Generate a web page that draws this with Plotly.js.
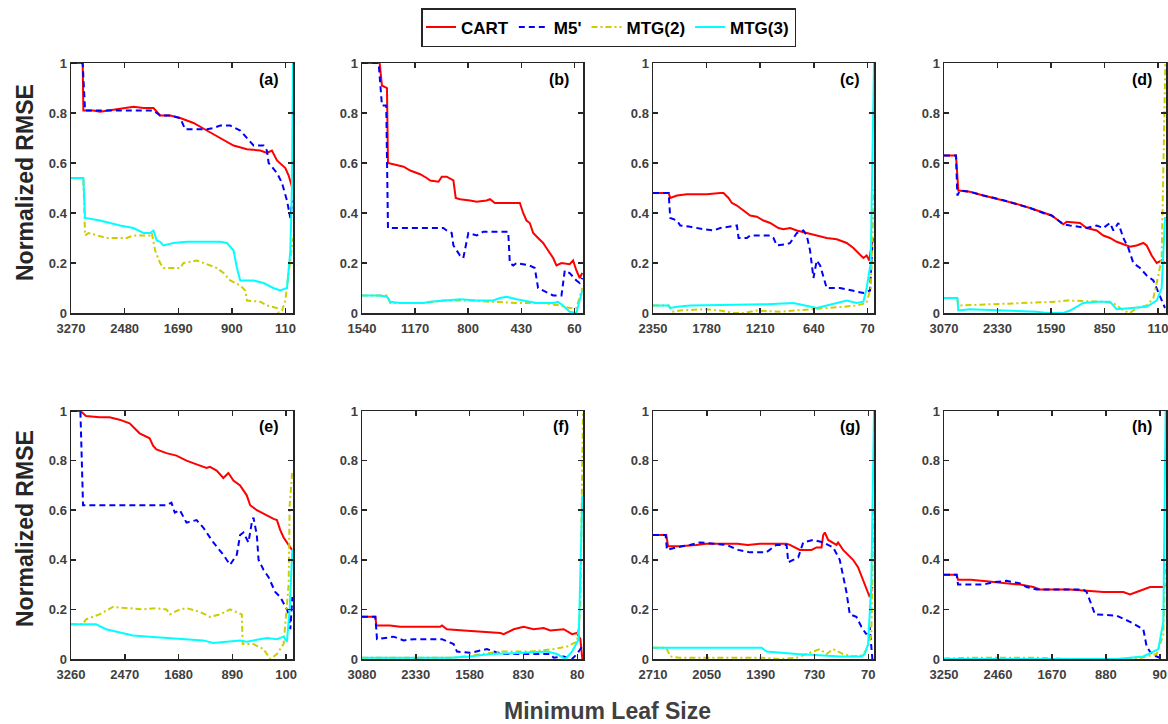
<!DOCTYPE html>
<html>
<head>
<meta charset="utf-8">
<script src="https://cdn.plot.ly/plotly-3.0.1.min.js"></script>
<style>html,body{margin:0;padding:0;background:#fff;}#chart{width:1168px;height:724px;}</style>
</head>
<body>
<div id="chart"></div>
<script>
// ---------- Series names & tick settings ----------
const seriesNames = ["CART", "M5'", "MTG(2)", "MTG(3)"];
const panelLabels = ["(a)", "(b)", "(c)", "(d)", "(e)", "(f)", "(g)", "(h)"];
const xMax = [3270, 1540, 2350, 3070, 3260, 3080, 2710, 3250];
const xTicks = [
  [3270, 2480, 1690, 900, 110],
  [1540, 1170, 800, 430, 60],
  [2350, 1780, 1210, 640, 70],
  [3070, 2330, 1590, 850, 110],
  [3260, 2470, 1680, 890, 100],
  [3080, 2330, 1580, 830, 80],
  [2710, 2050, 1390, 730, 70],
  [3250, 2460, 1670, 880, 90]
];
const yTicks = [0, 0.2, 0.4, 0.6, 0.8, 1];
const yTickText = ["0", "0.2", "0.4", "0.6", "0.8", "1"];

// ---------- Panel (a) ----------
const a_cart_x = [3270,3098,3088,2940,2842,2449,2350,2203,2055,1957,1809,1662,1465,1269,1072,875,679,482,384,310,236,113,64,30,10];
const a_cart_y = [1,1,0.81,0.81,0.805,0.82,0.825,0.82,0.82,0.79,0.79,0.78,0.76,0.73,0.70,0.67,0.655,0.65,0.64,0.65,0.61,0.58,0.55,0.52,0.5];
const a_m5_x = [3270,3098,3063,2055,1957,1809,1662,1588,1269,1170,1072,925,777,679,581,433,384,359,236,162,89,39,10];
const a_m5_y = [1,1,0.81,0.81,0.79,0.79,0.78,0.735,0.735,0.74,0.75,0.75,0.73,0.70,0.67,0.67,0.65,0.60,0.56,0.52,0.45,0.38,0.45];
const a_mtg2_x = [3270,3088,3063,3014,2745,2449,2350,2105,2080,2031,1957,1908,1662,1613,1416,1318,1121,1023,924,777,703,679,482,384,236,211,162,113,39,0];
const a_mtg2_y = [0.54,0.54,0.31,0.32,0.30,0.30,0.31,0.31,0.32,0.25,0.20,0.18,0.18,0.20,0.21,0.20,0.18,0.16,0.13,0.11,0.09,0.05,0.045,0.03,0.02,0.0,0.01,0.05,0.2,0.3];
const a_mtg3_x = [3270,3088,3063,2842,2547,2350,2203,2105,2055,2006,1957,1908,1760,1564,1072,973,875,826,777,580,433,290,187,89,39,15,0];
const a_mtg3_y = [0.54,0.54,0.38,0.37,0.35,0.34,0.32,0.32,0.33,0.29,0.285,0.27,0.28,0.285,0.285,0.28,0.25,0.18,0.13,0.13,0.12,0.10,0.09,0.10,0.25,0.5,1.0];

// ---------- Panel (b) ----------
const b_cart_x = [1540,1417,1401,1366,1359,1297,1250,1204,1135,1089,1065,1007,984,950,903,887,857,787,741,672,648,614,440,417,394,371,347,313,278,243,208,185,150,93,69,46,23,5];
const b_cart_y = [1,1,0.91,0.90,0.60,0.59,0.585,0.57,0.555,0.54,0.53,0.525,0.545,0.545,0.53,0.46,0.455,0.45,0.445,0.45,0.455,0.44,0.44,0.40,0.37,0.36,0.32,0.30,0.28,0.25,0.22,0.19,0.20,0.195,0.21,0.17,0.14,0.16];
const b_m5_x = [1540,1424,1401,1371,1359,973,950,915,903,857,834,799,741,695,521,510,486,463,371,336,313,278,243,208,150,127,93,46,23,5];
const b_m5_y = [1,1,0.83,0.83,0.34,0.34,0.33,0.32,0.27,0.23,0.22,0.32,0.31,0.325,0.325,0.20,0.19,0.20,0.19,0.18,0.10,0.09,0.08,0.07,0.07,0.17,0.16,0.13,0.12,0.14];
const b_mtg2_x = [1540,1366,1343,1111,973,787,648,463,278,162,93,46,5];
const b_mtg2_y = [0.07,0.07,0.04,0.04,0.05,0.05,0.045,0.04,0.04,0.03,0.02,0.02,0.1];
const b_mtg3_x = [1540,1413,1366,1343,1274,1111,1065,950,857,741,625,579,533,463,417,324,208,174,139,93,46,23,5];
const b_mtg3_y = [0.07,0.07,0.065,0.045,0.04,0.04,0.045,0.05,0.055,0.05,0.05,0.06,0.065,0.055,0.05,0.04,0.04,0.045,0.03,0.005,0.0,0.05,0.09];

// ---------- Panel (c) ----------
const c_cart_x = [2350,2184,2166,2095,1989,1777,1635,1600,1547,1511,1458,1388,1317,1246,1175,1104,1016,963,892,821,715,609,503,396,290,219,166,113,78,50,14];
const c_cart_y = [0.48,0.48,0.46,0.47,0.475,0.475,0.48,0.48,0.46,0.44,0.43,0.41,0.39,0.385,0.37,0.36,0.34,0.335,0.34,0.33,0.32,0.31,0.30,0.295,0.28,0.26,0.24,0.22,0.23,0.21,0.3];
const c_m5_x = [2350,2184,2166,2095,2060,1954,1812,1706,1635,1547,1458,1440,1352,1317,1104,1069,1033,927,892,821,750,715,680,644,609,573,503,361,219,113,42,14];
const c_m5_y = [0.48,0.48,0.38,0.37,0.35,0.345,0.335,0.33,0.34,0.345,0.35,0.30,0.30,0.31,0.31,0.30,0.27,0.275,0.28,0.32,0.33,0.31,0.25,0.14,0.21,0.19,0.10,0.10,0.09,0.08,0.09,0.3];
const c_mtg2_x = [2350,2184,2148,2060,1812,1635,1493,1388,1317,1246,998,856,644,503,325,184,78,35,0];
const c_mtg2_y = [0.03,0.03,0.005,0.01,0.015,0.01,0.0,0.0,0.005,0.01,0.005,0.01,0.015,0.02,0.025,0.03,0.04,0.1,0.5];
const c_mtg3_x = [2350,2184,2166,2095,1954,1706,1352,1140,856,715,609,503,361,290,184,113,78,35,0];
const c_mtg3_y = [0.03,0.03,0.02,0.025,0.03,0.032,0.032,0.035,0.04,0.03,0.02,0.03,0.045,0.05,0.04,0.045,0.10,0.2,1.0];

// ---------- Panel (d) ----------
const d_cart_x = [3070,2904,2872,2711,2526,2296,2111,1881,1697,1581,1489,1420,1374,1189,1097,959,867,774,682,590,498,406,313,267,198,129,60,14];
const d_cart_y = [0.63,0.63,0.49,0.485,0.47,0.455,0.44,0.42,0.40,0.39,0.37,0.355,0.365,0.36,0.34,0.33,0.31,0.30,0.285,0.275,0.265,0.27,0.28,0.27,0.23,0.20,0.21,0.2];
const d_m5_x = [3070,2904,2886,2849,2711,2526,2296,2111,1881,1697,1581,1489,1420,1328,1097,959,867,774,728,659,590,521,452,359,267,175,106,46,14];
const d_m5_y = [0.63,0.63,0.47,0.49,0.485,0.47,0.455,0.44,0.42,0.40,0.39,0.37,0.355,0.35,0.34,0.35,0.34,0.36,0.33,0.36,0.30,0.26,0.20,0.18,0.15,0.13,0.08,0.04,0.02];
const d_mtg2_x = [3070,2886,2872,2480,2019,1512,1374,867,728,590,498,406,267,175,106,60,9,0];
const d_mtg2_y = [0.06,0.06,0.03,0.035,0.04,0.045,0.05,0.045,0.04,0.01,0.0,0.02,0.03,0.06,0.15,0.22,1.0,1.0];
const d_mtg3_x = [3070,2886,2872,2711,2250,1789,1651,1420,1328,1143,959,774,682,498,267,129,60,14,0];
const d_mtg3_y = [0.06,0.06,0.01,0.015,0.01,0.005,0.0,0.0,0.01,0.04,0.045,0.045,0.015,0.02,0.025,0.05,0.1,0.38,0.38];

// ---------- Panel (e) ----------
const e_cart_x = [3260,3122,3039,2842,2694,2547,2399,2326,2252,2105,2055,2006,1859,1711,1564,1416,1269,1219,1121,1023,949,875,777,679,629,531,433,285,236,187,138,89,39,15];
const e_cart_y = [1.0,1.0,0.98,0.975,0.975,0.965,0.95,0.93,0.91,0.89,0.86,0.845,0.83,0.82,0.80,0.785,0.77,0.775,0.76,0.73,0.75,0.72,0.70,0.66,0.62,0.60,0.585,0.565,0.56,0.52,0.49,0.47,0.45,0.44];
const e_m5_x = [3260,3122,3083,2842,1859,1785,1736,1662,1564,1416,1318,1170,1023,924,826,777,728,654,605,580,531,506,433,359,261,187,89,64,39,10];
const e_m5_y = [1.0,1.0,0.62,0.62,0.62,0.63,0.59,0.60,0.55,0.56,0.53,0.47,0.42,0.38,0.42,0.50,0.51,0.47,0.55,0.57,0.50,0.40,0.36,0.33,0.27,0.25,0.20,0.18,0.12,0.25];
const e_mtg2_x = [3260,3088,3039,2940,2842,2645,2449,2203,2006,1859,1809,1662,1564,1367,1219,1072,924,777,752,738,580,433,334,236,138,64,49,10];
const e_mtg2_y = [0.14,0.14,0.16,0.17,0.18,0.21,0.205,0.20,0.205,0.20,0.18,0.20,0.205,0.19,0.17,0.18,0.20,0.185,0.18,0.06,0.06,0.04,0.0,0.02,0.06,0.3,0.62,0.76];
const e_mtg3_x = [3260,2891,2745,2596,2350,2105,1859,1564,1318,1170,973,777,679,580,384,236,138,89,49,10];
const e_mtg3_y = [0.14,0.14,0.12,0.11,0.095,0.09,0.085,0.08,0.075,0.065,0.07,0.075,0.07,0.075,0.085,0.08,0.09,0.07,0.2,0.44];

// ---------- Panel (f) ----------
const f_cart_x = [3080,2894,2880,2690,2551,1991,1965,1896,1663,1384,1152,1106,966,827,687,548,455,269,153,84,37,9];
const f_cart_y = [0.17,0.17,0.135,0.135,0.13,0.13,0.135,0.12,0.115,0.11,0.105,0.10,0.12,0.13,0.12,0.125,0.115,0.12,0.10,0.105,0.08,0.0];
const f_m5_x = [3080,2894,2871,2732,2639,2500,2360,1965,1803,1756,1570,1338,1245,1106,455,409,269,153,84,14];
const f_m5_y = [0.17,0.17,0.08,0.085,0.09,0.075,0.08,0.08,0.06,0.03,0.025,0.04,0.03,0.02,0.02,0.005,0.01,0.0,0.02,0.05];
const f_mtg2_x = [3080,1803,1663,1152,734,409,223,84,37,9,0];
const f_mtg2_y = [0.005,0.005,0.01,0.03,0.03,0.04,0.05,0.07,0.2,1.0,1.0];
const f_mtg3_x = [3080,1849,1570,1292,827,502,362,246,153,60,9];
const f_mtg3_y = [0.005,0.005,0.01,0.02,0.025,0.03,0.02,0.0,0.03,0.08,0.66];

// ---------- Panel (g) ----------
const g_cart_x = [2710,2547,2526,2384,2180,2058,1675,1548,1398,1072,1031,909,766,705,644,623,603,562,460,440,379,257,196,134,94,53,20];
const g_cart_y = [0.50,0.50,0.455,0.455,0.46,0.465,0.465,0.46,0.465,0.465,0.46,0.44,0.44,0.45,0.45,0.50,0.51,0.48,0.46,0.47,0.44,0.40,0.37,0.32,0.29,0.25,0.29];
const g_m5_x = [2710,2555,2539,2421,2258,2135,1809,1666,1524,1320,1198,1072,1051,929,868,746,623,501,420,338,297,216,155,94,53,20];
const g_m5_y = [0.50,0.50,0.44,0.45,0.46,0.47,0.46,0.44,0.43,0.43,0.46,0.46,0.39,0.41,0.47,0.48,0.47,0.45,0.40,0.27,0.18,0.17,0.13,0.10,0.13,0.0];
const g_mtg2_x = [2710,2547,2498,2384,1356,1153,950,827,664,583,501,379,257,134,73,33,4];
const g_mtg2_y = [0.045,0.045,0.01,0.005,0.005,0.0,0.005,0.02,0.04,0.02,0.04,0.02,0.01,0.015,0.05,0.1,0.6];
const g_mtg3_x = [2710,1377,1316,1153,950,664,420,155,114,73,33,0];
const g_mtg3_y = [0.045,0.045,0.03,0.025,0.02,0.015,0.01,0.01,0.02,0.06,0.3,1.0];

// ---------- Panel (h) ----------
const h_cart_x = [3250,3065,3045,2860,2665,2479,2284,2137,2040,1942,1845,1600,1405,1161,917,625,527,430,332,234,137,39,10];
const h_cart_y = [0.34,0.34,0.32,0.32,0.315,0.31,0.305,0.30,0.295,0.29,0.28,0.28,0.28,0.275,0.27,0.27,0.26,0.27,0.28,0.29,0.29,0.29,0.3];
const h_m5_x = [3250,3065,3045,2674,2528,2333,2137,2040,1894,1600,1210,1161,1039,722,527,332,283,210,137,39];
const h_m5_y = [0.34,0.34,0.30,0.30,0.31,0.315,0.305,0.29,0.28,0.28,0.28,0.27,0.18,0.175,0.15,0.12,0.05,0.02,0.01,0.0];
const h_mtg2_x = [3250,2860,1894,1405,430,137,39,10];
const h_mtg2_y = [0.002,0.005,0.005,0.0,0.0,0.02,0.1,0.4];
const h_mtg3_x = [3250,722,527,332,185,112,39,5];
const h_mtg3_y = [0.0,0.0,0.005,0.01,0.03,0.04,0.15,1.0];

// ---------- Build ----------
const panelData = [
  [[a_cart_x,a_cart_y],[a_m5_x,a_m5_y],[a_mtg2_x,a_mtg2_y],[a_mtg3_x,a_mtg3_y]],
  [[b_cart_x,b_cart_y],[b_m5_x,b_m5_y],[b_mtg2_x,b_mtg2_y],[b_mtg3_x,b_mtg3_y]],
  [[c_cart_x,c_cart_y],[c_m5_x,c_m5_y],[c_mtg2_x,c_mtg2_y],[c_mtg3_x,c_mtg3_y]],
  [[d_cart_x,d_cart_y],[d_m5_x,d_m5_y],[d_mtg2_x,d_mtg2_y],[d_mtg3_x,d_mtg3_y]],
  [[e_cart_x,e_cart_y],[e_m5_x,e_m5_y],[e_mtg2_x,e_mtg2_y],[e_mtg3_x,e_mtg3_y]],
  [[f_cart_x,f_cart_y],[f_m5_x,f_m5_y],[f_mtg2_x,f_mtg2_y],[f_mtg3_x,f_mtg3_y]],
  [[g_cart_x,g_cart_y],[g_m5_x,g_m5_y],[g_mtg2_x,g_mtg2_y],[g_mtg3_x,g_mtg3_y]],
  [[h_cart_x,h_cart_y],[h_m5_x,h_m5_y],[h_mtg2_x,h_mtg2_y],[h_mtg3_x,h_mtg3_y]]
];

const lineStyles = [
  {color: '#ff0000', width: 2, dash: 'solid'},
  {color: '#0000ff', width: 2, dash: '6px,4px'},
  {color: '#cccc00', width: 2, dash: '6px,3px,2px,3px'},
  {color: '#00ffff', width: 2, dash: 'solid'}
];

const W = 1168, H = 724;
const colLeft = [71, 362, 653, 944];
const colRight = [293, 583, 874, 1166];
const rowTop = [63, 411];
const rowBottom = [313, 659];

const FONT = 'Liberation Sans, Arial, sans-serif';
const traces = [];
const layout = {
  width: W, height: H,
  margin: {l: 0, r: 0, t: 0, b: 0},
  paper_bgcolor: '#ffffff',
  plot_bgcolor: '#ffffff',
  font: {family: FONT, size: 13, color: '#404040'},
  showlegend: true,
  legend: {
    orientation: 'h',
    x: 421 / W, xanchor: 'left',
    y: 1 - 8 / H, yanchor: 'top',
    bordercolor: '#262626', borderwidth: 1.5,
    bgcolor: '#ffffff',
    font: {family: FONT, size: 17, color: '#000000', weight: 'bold'},
    itemwidth: 30,
    tracegroupgap: 0
  },
  annotations: [],
  hovermode: false
};

for (let p = 0; p < 8; p++) {
  const row = Math.floor(p / 4), col = p % 4;
  const xa = 'xaxis' + (p === 0 ? '' : p + 1);
  const ya = 'yaxis' + (p === 0 ? '' : p + 1);
  const xr = 'x' + (p === 0 ? '' : p + 1);
  const yr = 'y' + (p === 0 ? '' : p + 1);
  for (let s = 0; s < 4; s++) {
    traces.push({
      type: 'scatter', mode: 'lines',
      x: panelData[p][s][0], y: panelData[p][s][1],
      xaxis: xr, yaxis: yr,
      name: seriesNames[s],
      legendgroup: seriesNames[s],
      showlegend: p === 0,
      line: lineStyles[s],
      cliponaxis: true
    });
  }
  const common = {
    showline: true, linecolor: '#262626', linewidth: 1.5, mirror: 'ticks',
    ticks: 'inside', ticklen: 5, tickwidth: 1.5, tickcolor: '#262626',
    showgrid: false, zeroline: false,
    tickfont: {family: FONT, size: 13, color: '#404040', weight: 'bold'},
    ticklabeloverflow: 'allow'
  };
  layout[xa] = Object.assign({}, common, {
    domain: [colLeft[col] / W, colRight[col] / W],
    range: [xMax[p], 0],
    tickmode: 'array', tickvals: xTicks[p], ticktext: xTicks[p].map(String),
    anchor: yr, ticklabelstandoff: 3
  });
  layout[ya] = Object.assign({}, common, {
    domain: [1 - rowBottom[row] / H, 1 - rowTop[row] / H],
    range: [0, 1],
    tickmode: 'array', tickvals: yTicks, ticktext: yTickText,
    anchor: xr
  });
  layout.annotations.push({
    xref: xr + ' domain', yref: yr + ' domain',
    x: 0.946, y: 0.936, xanchor: 'right', yanchor: 'middle',
    text: panelLabels[p], showarrow: false,
    font: {family: FONT, size: 16, color: '#000000', weight: 'bold'}
  });
}

// Axis titles
layout.annotations.push({
  xref: 'paper', yref: 'paper', x: 25 / W, y: 1 - 183 / H,
  text: 'Normalized RMSE', textangle: -90, showarrow: false,
  xanchor: 'center', yanchor: 'middle',
  font: {family: FONT, size: 23, color: '#262626', weight: 'bold'}
});
layout.annotations.push({
  xref: 'paper', yref: 'paper', x: 25 / W, y: 1 - 529 / H,
  text: 'Normalized RMSE', textangle: -90, showarrow: false,
  xanchor: 'center', yanchor: 'middle',
  font: {family: FONT, size: 23, color: '#262626', weight: 'bold'}
});
layout.annotations.push({
  xref: 'paper', yref: 'paper', x: 607 / W, y: 1 - 711 / H,
  text: 'Minimum Leaf Size', showarrow: false,
  xanchor: 'center', yanchor: 'middle',
  font: {family: FONT, size: 23, color: '#404040', weight: 'bold'}
});

Plotly.newPlot('chart', traces, layout, {displayModeBar: false, staticPlot: true});
</script>
</body>
</html>
